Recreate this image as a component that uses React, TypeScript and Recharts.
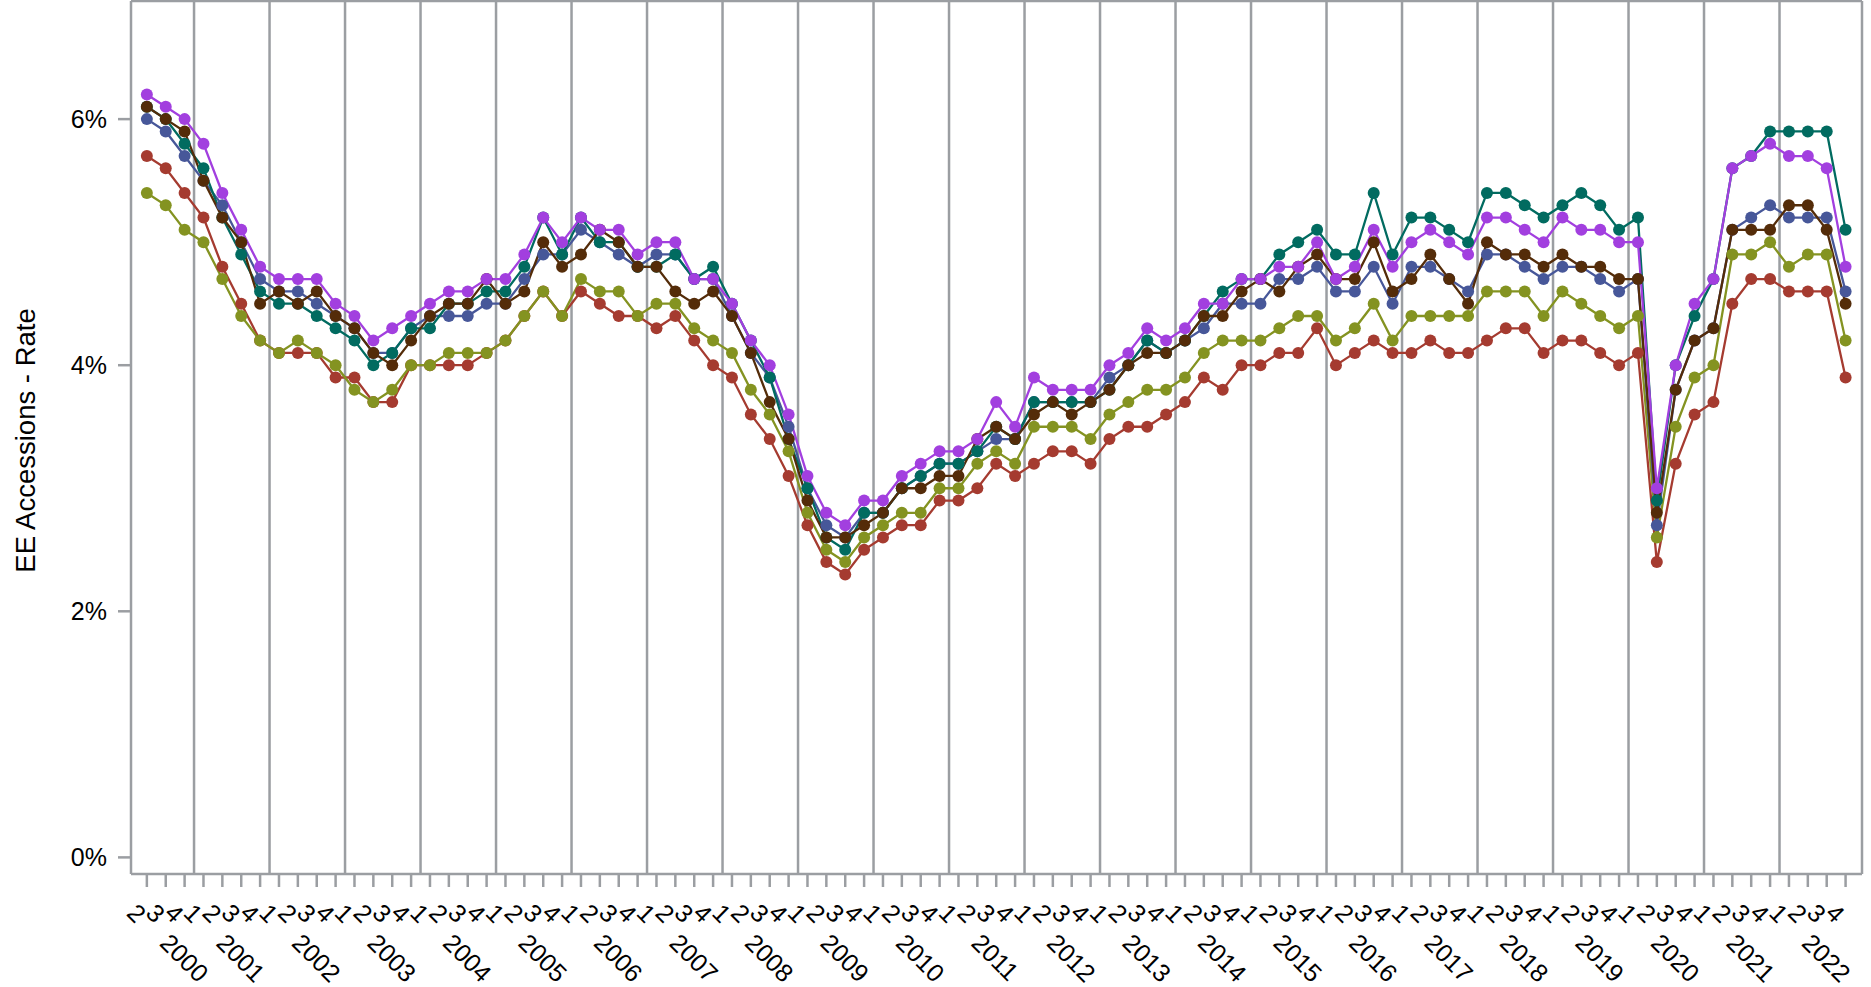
import React from "react";
import { Line, LineChart, ReferenceLine, XAxis, YAxis } from "recharts";

// quarterly EE accession rates, 2000 Q2 .. 2022 Q4
const years = [
  "2000", "2001", "2002", "2003", "2004", "2005", "2006", "2007", "2008", "2009", "2010", "2011",
  "2012", "2013", "2014", "2015", "2016", "2017", "2018", "2019", "2020", "2021", "2022",
];
const quarterNames = ["1", "2", "3", "4"];
const yTicks = [0, 2, 4, 6];

const red = [
  5.7, 5.6, 5.4, 5.2, 4.8, 4.5, 4.2, 4.1, 4.1, 4.1,
  3.9, 3.9, 3.7, 3.7, 4.0, 4.0, 4.0, 4.0, 4.1, 4.2,
  4.4, 4.6, 4.4, 4.6, 4.5, 4.4, 4.4, 4.3, 4.4, 4.2,
  4.0, 3.9, 3.6, 3.4, 3.1, 2.7, 2.4, 2.3, 2.5, 2.6,
  2.7, 2.7, 2.9, 2.9, 3.0, 3.2, 3.1, 3.2, 3.3, 3.3,
  3.2, 3.4, 3.5, 3.5, 3.6, 3.7, 3.9, 3.8, 4.0, 4.0,
  4.1, 4.1, 4.3, 4.0, 4.1, 4.2, 4.1, 4.1, 4.2, 4.1,
  4.1, 4.2, 4.3, 4.3, 4.1, 4.2, 4.2, 4.1, 4.0, 4.1,
  2.4, 3.2, 3.6, 3.7, 4.5, 4.7, 4.7, 4.6, 4.6, 4.6, 3.9,
];
const olive = [
  5.4, 5.3, 5.1, 5.0, 4.7, 4.4, 4.2, 4.1, 4.2, 4.1,
  4.0, 3.8, 3.7, 3.8, 4.0, 4.0, 4.1, 4.1, 4.1, 4.2,
  4.4, 4.6, 4.4, 4.7, 4.6, 4.6, 4.4, 4.5, 4.5, 4.3,
  4.2, 4.1, 3.8, 3.6, 3.3, 2.8, 2.5, 2.4, 2.6, 2.7,
  2.8, 2.8, 3.0, 3.0, 3.2, 3.3, 3.2, 3.5, 3.5, 3.5,
  3.4, 3.6, 3.7, 3.8, 3.8, 3.9, 4.1, 4.2, 4.2, 4.2,
  4.3, 4.4, 4.4, 4.2, 4.3, 4.5, 4.2, 4.4, 4.4, 4.4,
  4.4, 4.6, 4.6, 4.6, 4.4, 4.6, 4.5, 4.4, 4.3, 4.4,
  2.6, 3.5, 3.9, 4.0, 4.9, 4.9, 5.0, 4.8, 4.9, 4.9, 4.2,
];
const blue = [
  6.0, 5.9, 5.7, 5.5, 5.3, 5.0, 4.7, 4.6, 4.6, 4.5,
  4.4, 4.3, 4.1, 4.1, 4.3, 4.4, 4.4, 4.4, 4.5, 4.5,
  4.7, 4.9, 4.9, 5.1, 5.0, 4.9, 4.8, 4.9, 4.9, 4.7,
  4.7, 4.4, 4.1, 3.9, 3.5, 3.0, 2.7, 2.6, 2.8, 2.8,
  3.0, 3.1, 3.2, 3.2, 3.3, 3.4, 3.4, 3.7, 3.7, 3.7,
  3.7, 3.9, 4.0, 4.2, 4.1, 4.2, 4.3, 4.5, 4.5, 4.5,
  4.7, 4.7, 4.8, 4.6, 4.6, 4.8, 4.5, 4.8, 4.8, 4.7,
  4.6, 4.9, 4.9, 4.8, 4.7, 4.8, 4.8, 4.7, 4.6, 4.7,
  2.7, 3.8, 4.2, 4.3, 5.1, 5.2, 5.3, 5.2, 5.2, 5.2, 4.6,
];
const teal = [
  6.1, 6.0, 5.8, 5.6, 5.2, 4.9, 4.6, 4.5, 4.5, 4.4,
  4.3, 4.2, 4.0, 4.1, 4.3, 4.3, 4.5, 4.5, 4.6, 4.6,
  4.8, 5.2, 4.9, 5.2, 5.0, 5.0, 4.8, 4.8, 4.9, 4.7,
  4.8, 4.5, 4.2, 3.9, 3.4, 3.0, 2.6, 2.5, 2.8, 2.8,
  3.0, 3.1, 3.2, 3.2, 3.3, 3.5, 3.4, 3.7, 3.7, 3.7,
  3.7, 3.8, 4.0, 4.2, 4.1, 4.2, 4.4, 4.6, 4.7, 4.7,
  4.9, 5.0, 5.1, 4.9, 4.9, 5.4, 4.9, 5.2, 5.2, 5.1,
  5.0, 5.4, 5.4, 5.3, 5.2, 5.3, 5.4, 5.3, 5.1, 5.2,
  2.9, 4.0, 4.4, 4.7, 5.6, 5.7, 5.9, 5.9, 5.9, 5.9, 5.1,
];
const brown = [
  6.1, 6.0, 5.9, 5.5, 5.2, 5.0, 4.5, 4.6, 4.5, 4.6,
  4.4, 4.3, 4.1, 4.0, 4.2, 4.4, 4.5, 4.5, 4.7, 4.5,
  4.6, 5.0, 4.8, 4.9, 5.1, 5.0, 4.8, 4.8, 4.6, 4.5,
  4.6, 4.4, 4.1, 3.7, 3.4, 2.9, 2.6, 2.6, 2.7, 2.8,
  3.0, 3.0, 3.1, 3.1, 3.4, 3.5, 3.4, 3.6, 3.7, 3.6,
  3.7, 3.8, 4.0, 4.1, 4.1, 4.2, 4.4, 4.4, 4.6, 4.7,
  4.6, 4.8, 4.9, 4.7, 4.7, 5.0, 4.6, 4.7, 4.9, 4.7,
  4.5, 5.0, 4.9, 4.9, 4.8, 4.9, 4.8, 4.8, 4.7, 4.7,
  2.8, 3.8, 4.2, 4.3, 5.1, 5.1, 5.1, 5.3, 5.3, 5.1, 4.5,
];
const purple = [
  6.2, 6.1, 6.0, 5.8, 5.4, 5.1, 4.8, 4.7, 4.7, 4.7,
  4.5, 4.4, 4.2, 4.3, 4.4, 4.5, 4.6, 4.6, 4.7, 4.7,
  4.9, 5.2, 5.0, 5.2, 5.1, 5.1, 4.9, 5.0, 5.0, 4.7,
  4.7, 4.5, 4.2, 4.0, 3.6, 3.1, 2.8, 2.7, 2.9, 2.9,
  3.1, 3.2, 3.3, 3.3, 3.4, 3.7, 3.5, 3.9, 3.8, 3.8,
  3.8, 4.0, 4.1, 4.3, 4.2, 4.3, 4.5, 4.5, 4.7, 4.7,
  4.8, 4.8, 5.0, 4.7, 4.8, 5.1, 4.8, 5.0, 5.1, 5.0,
  4.9, 5.2, 5.2, 5.1, 5.0, 5.2, 5.1, 5.1, 5.0, 5.0,
  3.0, 4.0, 4.5, 4.7, 5.6, 5.7, 5.8, 5.7, 5.7, 5.6, 4.8,
];

const FONT = "Liberation Sans, Arial, sans-serif";
const FRAME = "#9b9ea2";

// draw order matters: later series sit on top
const series = [
  { key: "red", color: "#a53b30", values: red },
  { key: "olive", color: "#849321", values: olive },
  { key: "blue", color: "#475799", values: blue },
  { key: "teal", color: "#016b60", values: teal },
  { key: "brown", color: "#542c09", values: brown },
  { key: "purple", color: "#a23fdf", values: purple },
];

const periods = years
  .flatMap((year) => quarterNames.map((quarter) => ({ year, quarter })))
  .slice(1); // data starts at 2000 Q2

const rows = periods.map((p, i) => {
  const row: Record<string, number | string> = { idx: i, year: p.year, quarter: p.quarter };
  series.forEach((s) => {
    row[s.key] = s.values[i];
  });
  return row;
});

const tickIdx = rows.map((r) => r.idx as number);
const yearStarts = rows.filter((r) => r.quarter === "1").map((r) => r.idx as number);

const X_DOMAIN: [number, number] = [-0.84, 90.87];
const Y_DOMAIN: [number, number] = [-0.135, 6.96];

function QuarterTick(props: any) {
  const { x, y, payload } = props;
  const row = rows[payload.value];
  if (!row) return null;
  const showYear = row.quarter === "1" || payload.value === 0;
  return (
    <g>
      <text
        transform={`translate(${x - 10},${y + 26}) rotate(45)`}
        textAnchor="middle"
        dy="0.36em"
        fontSize={25}
        fontFamily={FONT}
        fill="#000"
      >
        {row.quarter}
      </text>
      {showYear && (
        <text
          transform={`translate(${x + 11.6},${y + 57.4}) rotate(45)`}
          textAnchor="start"
          fontSize={25}
          fontFamily={FONT}
          fill="#000"
        >
          {row.year}
        </text>
      )}
    </g>
  );
}

function YTitle(props: any) {
  const vb = props.viewBox || { x: 0, y: 0, width: 0, height: 0 };
  const cx = vb.x + 35;
  const cy = vb.y + vb.height / 2 + 3;
  return (
    <text
      transform={`translate(${cx},${cy}) rotate(-90)`}
      textAnchor="middle"
      fontSize={27.5}
      fontFamily={FONT}
      fill="#000"
    >
      EE Accessions - Rate
    </text>
  );
}

export default function App() {
  return (
    <div style={{ position: "absolute", left: 0, top: 0, background: "#fff" }}>
      <LineChart
        width={1871}
        height={987}
        data={rows}
        margin={{ top: 1, right: 9, left: 0, bottom: 0 }}
      >
        <XAxis
          type="number"
          dataKey="idx"
          domain={X_DOMAIN}
          allowDataOverflow
          ticks={tickIdx}
          interval={0}
          height={113}
          tickSize={13}
          tickMargin={0}
          tick={<QuarterTick />}
          axisLine={{ stroke: FRAME, strokeWidth: 2.5 }}
          tickLine={{ stroke: FRAME, strokeWidth: 2.5 }}
        />
        <YAxis
          type="number"
          domain={Y_DOMAIN}
          allowDataOverflow
          ticks={yTicks}
          interval={0}
          width={131}
          tickSize={13}
          tickMargin={11}
          tickFormatter={(v: number) => `${v}%`}
          tick={{ fill: "#000", fontSize: 25, fontFamily: FONT }}
          axisLine={{ stroke: FRAME, strokeWidth: 2.5 }}
          tickLine={{ stroke: FRAME, strokeWidth: 2.5 }}
          label={{ value: "EE Accessions - Rate", content: YTitle }}
        />
        {yearStarts.map((s) => (
          <ReferenceLine key={s} x={s - 0.5} stroke={FRAME} strokeWidth={2.5} />
        ))}
        <ReferenceLine y={Y_DOMAIN[1]} stroke={FRAME} strokeWidth={2.5} />
        <ReferenceLine x={X_DOMAIN[1]} stroke={FRAME} strokeWidth={2.5} />
        {series.map((s) => (
          <Line
            key={s.key}
            dataKey={s.key}
            stroke={s.color}
            strokeWidth={2.3}
            dot={{ r: 6, fill: s.color, stroke: s.color, strokeWidth: 0 }}
            activeDot={false}
            isAnimationActive={false}
          />
        ))}
      </LineChart>
    </div>
  );
}
